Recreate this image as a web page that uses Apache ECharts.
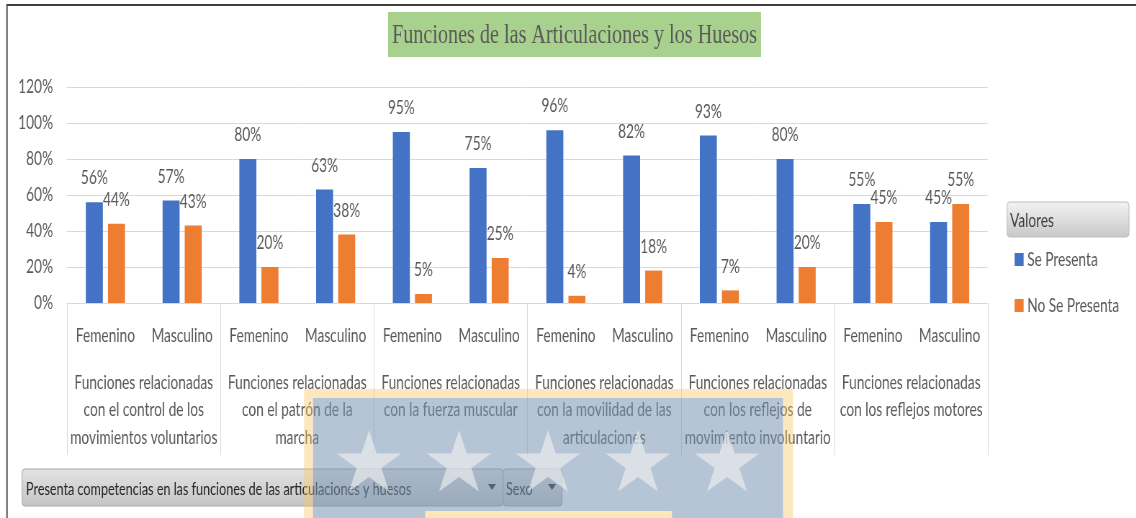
<!DOCTYPE html>
<html>
<head>
<meta charset="utf-8">
<script src="https://cdn.jsdelivr.net/npm/echarts@6/dist/echarts.min.js"></script>
<style>
html,body{margin:0;padding:0;background:#fff;overflow:hidden;width:1136px;height:518px;}
#main{width:1578px;height:518px;transform:scaleX(0.72);transform-origin:0 0;}
</style>
</head>
<body>
<div id="main"></div>
<script>
// ---- data ----
const titleText = "Funciones de las Articulaciones y los Huesos";
const groups = [
  "Funciones relacionadas\ncon el control de los\nmovimientos voluntarios",
  "Funciones relacionadas\ncon el patrón de la\nmarcha",
  "Funciones relacionadas\ncon la fuerza muscular",
  "Funciones relacionadas\ncon la movilidad de las\narticulaciones",
  "Funciones relacionadas\ncon los reflejos de\nmovimiento involuntario",
  "Funciones relacionadas\ncon los reflejos motores"
];
const sexes = ["Femenino", "Masculino"];
const seriesNames = ["Se Presenta", "No Se Presenta"];
const sePresenta   = [0.56, 0.57, 0.80, 0.63, 0.95, 0.75, 0.96, 0.82, 0.93, 0.80, 0.55, 0.45];
const noSePresenta = [0.44, 0.43, 0.20, 0.38, 0.05, 0.25, 0.04, 0.18, 0.07, 0.20, 0.45, 0.55];
const legendTitle = "Valores";
const filterField = "Presenta competencias en las funciones de las articulaciones y huesos";
const rowField = "Sexo";

// ---- chart ----
// The reference is horizontally condensed; the chart is drawn in a wider space and squeezed by CSS.
const SX = 0.72;
const X = v => v / SX;
const FONT = "Lato, 'Open Sans', sans-serif";
const txt = '#595959';
const categories = [];
groups.forEach(() => sexes.forEach(s => categories.push(s)));
const pct = v => Math.round(v * 100) + '%';

function starPoints(cx, cy, R, r) {
  const pts = [];
  for (let i = 0; i < 10; i++) {
    const ang = -Math.PI / 2 + i * Math.PI / 5;
    const rad = i % 2 === 0 ? R : r;
    pts.push([X(cx + rad * Math.cos(ang)), cy + rad * Math.sin(ang)]);
  }
  return pts;
}
const btnFill = () => new echarts.graphic.LinearGradient(0, 0, 0, 1, [
  { offset: 0, color: '#e4e4e4' }, { offset: 1, color: '#c4c4c4' }]);

const graphics = [
  { type: 'rect', z: 0, shape: { x: X(7), y: 5, width: 2000, height: 700 },
    style: { fill: 'none', stroke: '#3f3f3f', lineWidth: 1.8 } },
  { type: 'rect', z: 1, shape: { x: X(388), y: 12, width: X(373), height: 45 },
    style: { fill: '#a9d18e' } },
  { type: 'text', z: 2, x: X(574.5), y: 36,
    style: { text: titleText, font: '28px "Liberation Serif", serif', fill: txt,
             textAlign: 'center', textVerticalAlign: 'middle' } },
  { type: 'rect', z: 1, shape: { x: X(1007), y: 202, width: X(122), height: 35, r: 4 },
    style: { fill: new echarts.graphic.LinearGradient(0, 0, 0, 1, [
      { offset: 0, color: '#f3f3f3' }, { offset: 1, color: '#c8c8c8' }]),
      stroke: '#bdbdbd', lineWidth: 1 } },
  { type: 'text', z: 2, x: X(1010), y: 221,
    style: { text: legendTitle, font: '19px ' + FONT, fill: '#404040', textVerticalAlign: 'middle' } },
  { type: 'rect', z: 1, shape: { x: X(22), y: 469, width: X(481), height: 37, r: 4 },
    style: { fill: btnFill(), stroke: '#a6a6a6', lineWidth: 1 } },
  { type: 'text', z: 2, x: X(26), y: 489,
    style: { text: filterField, font: '17.5px ' + FONT, fill: '#262626', textVerticalAlign: 'middle' } },
  { type: 'polygon', z: 2, shape: { points: [[X(488), 484], [X(496), 484], [X(492), 490]] }, style: { fill: '#262626' } },
  { type: 'rect', z: 1, shape: { x: X(503), y: 469, width: X(59), height: 37, r: 4 },
    style: { fill: btnFill(), stroke: '#a6a6a6', lineWidth: 1 } },
  { type: 'text', z: 2, x: X(506), y: 489,
    style: { text: rowField, font: '17.5px ' + FONT, fill: '#262626', textVerticalAlign: 'middle' } },
  { type: 'polygon', z: 2, shape: { points: [[X(548), 484], [X(556), 484], [X(552), 490]] }, style: { fill: '#262626' } },
  // watermark overlay (yellow frame, blue panel, stars)
  { type: 'rect', z: 100, shape: { x: X(304), y: 389, width: X(489), height: 9 },
    style: { fill: 'rgba(250,200,100,0.42)' } },
  { type: 'rect', z: 100, shape: { x: X(304), y: 398, width: X(9), height: 130 },
    style: { fill: 'rgba(250,200,100,0.42)' } },
  { type: 'rect', z: 100, shape: { x: X(783), y: 398, width: X(10), height: 130 },
    style: { fill: 'rgba(250,200,100,0.42)' } },
  { type: 'rect', z: 101, shape: { x: X(313), y: 398, width: X(470), height: 130 },
    style: { fill: 'rgba(120,150,180,0.55)' } },
  { type: 'rect', z: 102, shape: { x: X(425), y: 511, width: X(247), height: 20 },
    style: { fill: 'rgba(253,230,185,1)' } }
];
[369, 459, 548, 638, 727].forEach(cx => {
  graphics.push({ type: 'polygon', z: 103, shape: { points: starPoints(cx, 464, 34, 13) },
    style: { fill: 'rgba(240,240,240,0.62)' } });
});

const chart = echarts.init(document.getElementById('main'));
chart.setOption({
  backgroundColor: '#fff',
  animation: false,
  textStyle: { fontFamily: FONT },
  grid: { left: X(67), right: 1578 - X(988), top: 87, bottom: 215 },
  legend: {
    orient: 'vertical', left: X(1011), top: 245, itemWidth: X(9), itemHeight: 13, itemGap: 27,
    icon: 'rect', data: seriesNames,
    textStyle: { fontSize: 19, color: txt, fontFamily: FONT }
  },
  xAxis: [
    { type: 'category', data: categories, position: 'bottom',
      axisLine: { lineStyle: { color: '#d9d9d9' } }, axisTick: { show: false },
      axisLabel: { interval: 0, margin: 23, color: txt, fontSize: 19, lineHeight: 20, fontFamily: FONT } },
    { type: 'category', data: groups, position: 'bottom',
      axisLine: { show: false },
      axisTick: { show: true, length: 152, lineStyle: { color: '#d9d9d9' } },
      axisLabel: { interval: 0, margin: 66, color: txt, fontSize: 19, lineHeight: 27.5, fontFamily: FONT } }
  ],
  yAxis: {
    type: 'value', min: 0, max: 1.2, interval: 0.2,
    axisLine: { show: false }, axisTick: { show: false },
    splitLine: { lineStyle: { color: '#d9d9d9' } },
    axisLabel: { formatter: pct, color: txt, fontSize: 19, margin: X(14), fontFamily: FONT }
  },
  series: [
    { name: seriesNames[0], type: 'bar', data: sePresenta, barWidth: X(17), barGap: '30%',
      itemStyle: { color: '#4472c4' },
      label: { show: true, position: 'top', distance: 14, formatter: p => pct(p.value),
               color: txt, fontSize: 19, lineHeight: 20, fontFamily: FONT } },
    { name: seriesNames[1], type: 'bar', data: noSePresenta, barWidth: X(17),
      itemStyle: { color: '#ed7d31' },
      label: { show: true, position: 'top', distance: 14, formatter: p => pct(p.value),
               color: txt, fontSize: 19, lineHeight: 20, fontFamily: FONT } }
  ],
  graphic: graphics
});
</script>
</body>
</html>
